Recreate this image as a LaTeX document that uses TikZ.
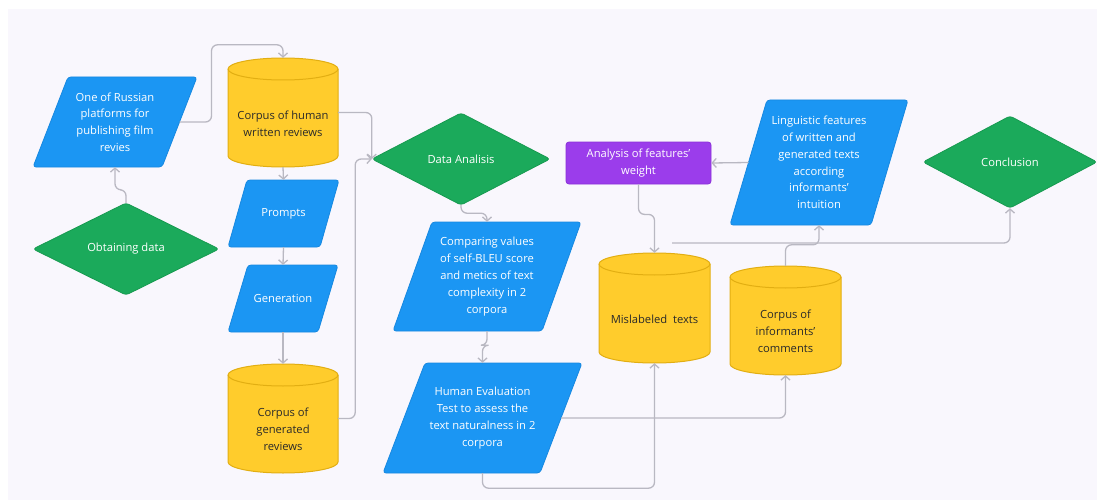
\documentclass[tikz,border=0pt]{standalone}
\usepackage{fontspec}
\setmainfont{Open Sans}
\usetikzlibrary{arrows.meta,calc}
\definecolor{bgc}{HTML}{F9F7FD}
\definecolor{bluef}{HTML}{1B96F3}
\definecolor{blued}{HTML}{1788E0}
\definecolor{greenf}{HTML}{1BAA5B}
\definecolor{greend}{HTML}{179A50}
\definecolor{yellowf}{HTML}{FFCC2C}
\definecolor{yellowd}{HTML}{E2AE12}
\definecolor{purplef}{HTML}{9B3DEB}
\definecolor{purpled}{HTML}{8A30D8}
\definecolor{connc}{HTML}{B9B8C2}
\definecolor{darktxt}{HTML}{2A2A2A}
\tikzset{
  lbl/.style={inner sep=0pt, align=center, font=\fontsize{11.2}{16.8}\selectfont},
  wlbl/.style={lbl, text=white},
  dlbl/.style={lbl, text=darktxt},
  bluesh/.style={fill=bluef, draw=blued, line width=0.8pt, rounded corners=3pt, line join=round},
  greensh/.style={fill=greenf, draw=greend, line width=0.8pt, rounded corners=3pt, line join=round},
  cylsh/.style={fill=yellowf, draw=yellowd, line width=1pt},
  cylline/.style={draw=yellowd, line width=1pt},
  purplebox/.style={wlbl, fill=purplef, draw=purpled, line width=0.8pt, rounded corners=3pt},
  link/.style={draw=connc, line width=1.3pt, rounded corners=6pt,
    -{Straight Barb[length=4pt,width=9pt]}},
}
\def\cylry{11}
\newcommand\Cyl[6]{%
  \pgfmathsetmacro\cylrx{(#3-#2)/2}%
  \pgfmathsetmacro\cylcx{(#3+#2)/2}%
  \pgfmathsetmacro\cylcy{(#4+#5)/2}%
  \pgfmathsetmacro\cylty{(#4+2*\cylry+#5)/2}%
  \pgfmathsetmacro\cylw{#3-#2}%
  \pgfmathsetmacro\cylh{#5-#4}%
  \path[cylsh] (#2,#4+\cylry) -- (#2,#5-\cylry)
    arc[start angle=180,end angle=360,x radius=\cylrx pt,y radius=\cylry pt]
    -- (#3,#4+\cylry)
    arc[start angle=0,end angle=180,x radius=\cylrx pt,y radius=\cylry pt] -- cycle;
  \draw[cylline] (#2,#4+\cylry)
    arc[start angle=180,end angle=360,x radius=\cylrx pt,y radius=\cylry pt];
  \node[inner sep=0pt, minimum width=\cylw pt, minimum height=\cylh pt] (#1) at (\cylcx,\cylcy) {};
  \node[dlbl] (#1-t) at (\cylcx,\cylty) {#6};
}
\newcommand\Para[7]{%
  \pgfmathsetmacro\pcx{#2+(#3+#4)/2}%
  \pgfmathsetmacro\pcy{(#5+#6)/2}%
  \pgfmathsetmacro\pw{#3+#4}%
  \pgfmathsetmacro\ph{#6-#5}%
  \draw[bluesh] (#2+#4,#5) -- (#2+#4+#3,#5) -- (#2+#3,#6) -- (#2,#6) -- cycle;
  \node[wlbl, minimum width=\pw pt, minimum height=\ph pt] (#1) at (\pcx,\pcy) {#7};
  \coordinate (#1-e) at (#2+#3+#4/2,\pcy);
  \coordinate (#1-w) at (#2+#4/2,\pcy);
}
\newcommand\Dia[6]{%
  \draw[greensh] (#2-#4/2,#3) -- (#2,#3-#5/2) -- (#2+#4/2,#3) -- (#2,#3+#5/2) -- cycle;
  \node[wlbl, minimum width=#4pt, minimum height=#5pt] (#1) at (#2,#3) {#6};
}
\begin{document}
\begin{tikzpicture}[x=1pt,y=-1pt]
\fill[white] (0,0) rectangle (1097,500);
\fill[bgc] (8,9) rectangle (1097,500);
\useasboundingbox (0,0) rectangle (1097,500);

% shapes
\Para{plat}{33}{129}{35}{77}{167}{One of Russian\\platforms for\\publishing film\\revies}
\Dia{obt}{126}{249}{186}{92}{Obtaining data}
\Cyl{chum}{228}{338}{58}{167}{Corpus of human\\written reviews}
\Para{prompts}{228}{92}{19}{180}{247}{Prompts}
\Para{gen}{228}{90}{20}{265}{332}{Generation}
\Cyl{cgen}{228}{338}{364}{473}{Corpus of\\generated\\reviews}
\Dia{da}{461}{159}{178}{92}{Data Analisis}
\Para{comp}{393}{149}{39}{222}{331}{Comparing values\\of self-BLEU score\\and metics of text\\complexity in 2\\corpora}
\Para{hum}{383}{157}{42}{363}{473}{Human Evaluation\\Test to assess the\\text naturalness in 2\\corpora}
\node[purplebox, minimum width=145pt, minimum height=42pt] (afw) at (638.5,163) {Analysis of features’\\weight};
\Para{ling}{730}{141}{37}{100}{225}{Linguistic features\\of written and\\generated texts\\according\\informants’\\intuition}
\Cyl{mis}{599}{710}{253}{363}{Mislabeled\ \ texts}
\Cyl{inf}{730}{841}{266}{375}{Corpus of\\informants’\\comments}
\Dia{concl}{1010}{162}{174}{92}{Conclusion}
\coordinate (fstart) at (672,243);

% connectors
\draw[link] (obt.north) -- ++(0,-13) -| (plat.south);
\draw[link] (plat-e) -- ++(32,0) |- ($(chum.north)+(0,-13)$) -- (chum.north);
\draw[link] (chum.south) -- (prompts.north);
\draw[link] (prompts.south) -- (gen.north);
\draw[link] (gen.south) -- (cgen.north);
\draw[link] (chum.east) -| (da.west);
\draw[link] (cgen.east) -- ++(17,0) |- (da.west);
\draw[link] (da.south) -- ++(0,8) -| (comp.north);
\draw[link] (comp.south) -- ++(0,14) -| (hum.north);
\draw[link] (hum-e) -| (inf.south);
\draw[link] (hum.south) -- ++(0,15) -| (mis.south);
\draw[link] (afw.south) -- ++(0,30) -| (mis.north);
\draw[link] (ling-w) -- (afw.east);
\draw[link] (inf.north) -- ++(0,-21) -| (ling.south);
\draw[link] (fstart) -| (concl.south);
\end{tikzpicture}
\end{document}
